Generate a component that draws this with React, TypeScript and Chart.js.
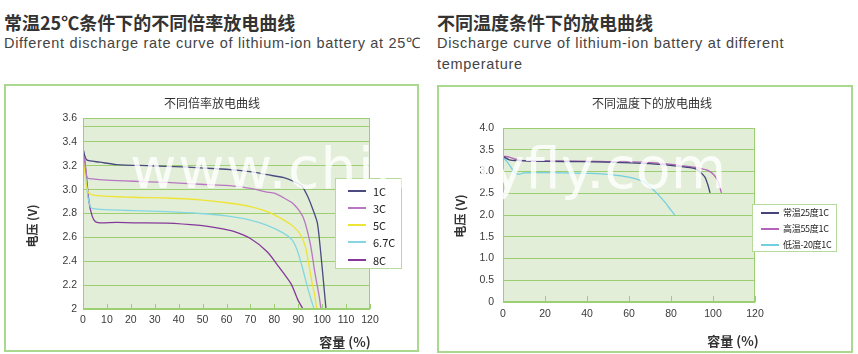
import React, { useEffect, useRef } from 'react';
import { Chart, registerables } from 'chart.js';
Chart.register(...registerables);

// ---------- Left chart: different discharge rates ----------
const rateLabels = ['1C', '3C', '5C', '6.7C', '8C'];
const rateColors = ['#4b4b82', '#b877c2', '#eee436', '#86d6e2', '#84399a'];

const cap1C = [0, 0.5, 1.5, 3, 7, 14, 28, 42, 56, 63, 70, 77, 84, 88, 91.5, 94, 96, 98, 99.4, 100.5, 101.6];
const volt1C = [3.35, 3.30, 3.25, 3.24, 3.23, 3.21, 3.20, 3.19, 3.175, 3.165, 3.15, 3.125, 3.10, 3.07, 3.03, 2.94, 2.84, 2.72, 2.47, 2.24, 2.0];

const cap3C = [0, 0.8, 1.8, 4, 10, 21, 35, 49, 63, 70, 77, 80, 84, 88, 92, 95, 97, 98.8, 99.5];
const volt3C = [3.35, 3.22, 3.10, 3.09, 3.08, 3.07, 3.06, 3.045, 3.03, 3.01, 2.98, 2.97, 2.93, 2.88, 2.77, 2.55, 2.30, 2.10, 2.0];

const cap5C = [0, 1, 2.4, 7, 21, 35, 49, 60, 70, 77, 84, 88, 91, 93, 94.2, 95.6, 97, 97.7];
const volt5C = [3.35, 3.10, 2.97, 2.947, 2.936, 2.93, 2.914, 2.89, 2.858, 2.815, 2.745, 2.69, 2.62, 2.52, 2.40, 2.24, 2.10, 2.0];

const cap67C = [0, 1, 2, 3, 3.8, 7, 21, 35, 49, 60, 70, 77, 84, 87.5, 89.6, 91.7, 93.5, 95.2, 96.6];
const volt67C = [3.35, 3.15, 2.95, 2.86, 2.843, 2.835, 2.824, 2.815, 2.80, 2.78, 2.745, 2.70, 2.633, 2.577, 2.49, 2.35, 2.21, 2.09, 2.0];

const cap8C = [0, 1, 2.5, 3.8, 5.2, 7, 14, 21, 35, 49, 56, 63, 70, 77, 82, 87, 90, 92];
const volt8C = [3.35, 3.20, 2.90, 2.78, 2.73, 2.722, 2.725, 2.722, 2.72, 2.70, 2.68, 2.65, 2.59, 2.48, 2.35, 2.21, 2.07, 2.0];

const leftXTicks = [0, 10, 20, 30, 40, 50, 60, 70, 80, 90, 100, 110, 120];
const leftXTickLabels = ['0', '10', '20', '30', '40', '50', '60', '70', '80', '90', '100', '110', '120'];
const leftYTicks = [2, 2.2, 2.4, 2.6, 2.8, 3.0, 3.2, 3.4, 3.53, 3.6];
const leftYTickLabels = ['2', '2.2', '2.4', '2.6', '2.8', '3.0', '3.2', '3.4', '', '3.6'];

// ---------- Right chart: different temperatures ----------
const tempLabels = ['常温25度1C', '高温55度1C', '低温-20度1C'];
const tempColors = ['#45457c', '#b363b9', '#72cfe0'];

const capNormal = [0, 3, 8, 13, 29, 45, 61, 70, 77, 85, 91, 93, 96, 97.5, 98.6];
const voltNormal = [3.35, 3.27, 3.25, 3.24, 3.23, 3.22, 3.20, 3.18, 3.15, 3.11, 3.07, 3.02, 2.88, 2.70, 2.51];

const capHigh = [0, 3, 6.4, 10, 29, 45, 61, 77, 89, 94, 97.3, 100.5, 102.4, 104];
const voltHigh = [3.35, 3.33, 3.28, 3.25, 3.24, 3.23, 3.22, 3.18, 3.11, 3.07, 3.03, 2.92, 2.77, 2.51];

const capLow = [0, 2, 4, 5.1, 6.2, 8, 10, 29, 45, 54, 61, 67, 72, 77, 80, 81.8];
const voltLow = [3.33, 3.22, 3.08, 3.0, 2.95, 2.94, 2.97, 2.97, 2.95, 2.91, 2.86, 2.76, 2.56, 2.30, 2.11, 2.0];

const rightXTicks = [0, 20, 40, 60, 80, 100, 120];
const rightXTickLabels = ['0', '20', '40', '60', '80', '100', '120'];
const rightYTicks = [0, 0.5, 1.0, 1.5, 2.0, 2.5, 3.0, 3.5, 4.0];
const rightYTickLabels = ['0', '0.5', '1.0', '1.5', '2.0', '2.5', '3.0', '3.5', '4.0'];

const PLOT_BG = '#e2eed7';
const GRID = '#9bcf72';
const TICK_FONT = '"Liberation Sans", Arial, sans-serif';
const CJK = '"Noto Sans CJK SC", "Liberation Sans", sans-serif';

const toPoints = (xs: number[], ys: number[]) => xs.map((x, i) => ({ x, y: ys[i] }));

const plotDecor = {
  id: 'plotDecor',
  beforeDraw(chart: any, _a: any, opts: any) {
    const { ctx, chartArea: a } = chart;
    ctx.save();
    ctx.fillStyle = opts.bg;
    ctx.fillRect(a.left, a.top, a.width, a.height);
    ctx.restore();
  },
  afterDatasetsDraw(chart: any, _a: any, opts: any) {
    const { ctx, chartArea: a, scales } = chart;
    ctx.save();
    ctx.strokeStyle = opts.border;
    ctx.lineWidth = 1;
    ctx.strokeRect(Math.round(a.left) + 0.5, Math.round(a.top) + 0.5, Math.round(a.width) - 1, Math.round(a.height) - 1);
    const xs = scales.x;
    xs.ticks.forEach((t: any) => {
      const px = Math.round(xs.getPixelForValue(t.value)) + 0.5;
      ctx.beginPath();
      ctx.moveTo(px, a.bottom);
      ctx.lineTo(px, a.bottom - opts.tickLen);
      ctx.stroke();
    });
    ctx.restore();
  },
};

type ChartProps = {
  left: number; top: number; width: number; height: number;
  datasets: any[];
  xTicks: number[]; xLabels: string[];
  yTicks: number[]; yLabels: string[];
  yMin: number; yMax: number;
  padTop: number; padRight: number; yAxisW: number; xAxisH: number;
  xPad: number; yPad: number; tickLen: number;
};

function LineChart(p: ChartProps) {
  const ref = useRef<HTMLCanvasElement | null>(null);
  useEffect(() => {
    if (!ref.current) return;
    const font = { family: TICK_FONT, size: 10.5 };
    const chart = new Chart(ref.current, {
      type: 'line',
      data: { datasets: p.datasets },
      plugins: [plotDecor],
      options: {
        animation: false,
        responsive: false,
        maintainAspectRatio: false,
        layout: { padding: { top: p.padTop, right: p.padRight, left: 0, bottom: 0 } },
        elements: { point: { radius: 0 }, line: { borderWidth: 1.3, tension: 0.25 } },
        plugins: {
          legend: { display: false },
          tooltip: { enabled: false },
          plotDecor: { bg: PLOT_BG, border: GRID, tickLen: p.tickLen },
        } as any,
        scales: {
          x: {
            type: 'linear',
            min: p.xTicks[0],
            max: p.xTicks[p.xTicks.length - 1],
            afterBuildTicks: (s: any) => { s.ticks = p.xTicks.map((v) => ({ value: v })); },
            afterFit: (s: any) => { s.height = p.xAxisH; },
            grid: { display: false, drawTicks: false, tickLength: 0 },
            border: { display: false },
            ticks: {
              padding: p.xPad, font, color: '#3a3a3a', maxRotation: 0, autoSkip: false,
              callback: (v: any) => { const i = p.xTicks.indexOf(Number(v)); return i >= 0 ? p.xLabels[i] : ''; },
            },
          },
          y: {
            type: 'linear',
            min: p.yMin,
            max: p.yMax,
            afterBuildTicks: (s: any) => { s.ticks = p.yTicks.map((v) => ({ value: v })); },
            afterFit: (s: any) => { s.width = p.yAxisW; },
            grid: { color: GRID, drawTicks: false, tickLength: 0, lineWidth: 1 },
            border: { display: false },
            ticks: {
              padding: p.yPad, font, color: '#3a3a3a', autoSkip: false,
              callback: (v: any) => { const i = p.yTicks.indexOf(Number(v)); return i >= 0 ? p.yLabels[i] : ''; },
            },
          },
        },
      } as any,
    });
    return () => chart.destroy();
  }, []);
  return (
    <canvas
      ref={ref}
      width={p.width}
      height={p.height}
      style={{ position: 'absolute', left: p.left, top: p.top, width: p.width, height: p.height }}
    />
  );
}

const abs = (s: React.CSSProperties): React.CSSProperties => ({ position: 'absolute', ...s });

function Legend({ left, top, width, height, labels, colors, rowTops, lineX, lineW, textX, fontSize }: any) {
  return (
    <div style={abs({ left, top, width, height, boxSizing: 'border-box', border: '1px solid #b5da9b', background: '#fff' })}>
      {labels.map((l: string, i: number) => (
        <React.Fragment key={l}>
          <div style={abs({ left: lineX, top: rowTops[i] - 1, width: lineW, height: 1.5, background: colors[i] })} />
          <div style={abs({ left: textX, top: rowTops[i] - 8, height: 16, lineHeight: '16px', fontSize, color: '#222', fontFamily: CJK, whiteSpace: 'nowrap', letterSpacing: fontSize < 10 ? -0.3 : 0 })}>{l}</div>
        </React.Fragment>
      ))}
    </div>
  );
}

export default function App() {
  const leftSets = [
    [cap1C, volt1C], [cap3C, volt3C], [cap5C, volt5C], [cap67C, volt67C], [cap8C, volt8C],
  ].map(([xs, ys], i) => ({
    label: rateLabels[i], data: toPoints(xs, ys), borderColor: rateColors[i], backgroundColor: rateColors[i], fill: false,
  }));
  const rightSets = [
    [capNormal, voltNormal], [capHigh, voltHigh], [capLow, voltLow],
  ].map(([xs, ys], i) => ({
    label: tempLabels[i], data: toPoints(xs, ys), borderColor: tempColors[i], backgroundColor: tempColors[i], fill: false,
  }));

  const heading: React.CSSProperties = { fontSize: 18, fontWeight: 'bold', color: '#333', fontFamily: CJK, lineHeight: '24px', whiteSpace: 'nowrap' };
  const sub: React.CSSProperties = { fontSize: 14.5, letterSpacing: 0.7, color: '#444', fontFamily: '"Liberation Sans", Arial, sans-serif', lineHeight: '21px', whiteSpace: 'nowrap' };
  const chartTitle: React.CSSProperties = { fontSize: 12, color: '#333', fontFamily: CJK, lineHeight: '16px', textAlign: 'center', whiteSpace: 'nowrap' };
  const axisTitle: React.CSSProperties = { fontSize: 13, fontWeight: 'bold', color: '#333', fontFamily: CJK, lineHeight: '16px', textAlign: 'center', whiteSpace: 'nowrap' };
  const watermark: React.CSSProperties = { fontSize: 57, color: 'rgba(255,255,255,0.82)', fontFamily: '"DejaVu Sans", sans-serif', lineHeight: '70px', whiteSpace: 'nowrap', pointerEvents: 'none' };

  return (
    <div style={abs({ left: 0, top: 0, width: 858, height: 354, background: '#fff', overflow: 'hidden' })}>
      <div style={abs({ left: 4, top: 10, ...heading })}>常温25℃条件下的不同倍率放电曲线</div>
      <div style={abs({ left: 4, top: 33, ...sub })}>Different discharge rate curve of lithium-ion battery at 25℃</div>
      <div style={abs({ left: 437, top: 10, ...heading })}>不同温度条件下的放电曲线</div>
      <div style={abs({ left: 437, top: 33, ...sub })}>Discharge curve of lithium-ion battery at different<br />temperature</div>

      <div style={abs({ left: 4, top: 84, width: 415, height: 268, boxSizing: 'border-box', border: '2px solid #a9d88e' })} />
      <div style={abs({ left: 437, top: 85, width: 416, height: 268, boxSizing: 'border-box', border: '2px solid #a9d88e' })} />

      <LineChart
        left={6} top={86} width={411} height={264}
        datasets={leftSets}
        xTicks={leftXTicks} xLabels={leftXTickLabels}
        yTicks={leftYTicks} yLabels={leftYTickLabels}
        yMin={2} yMax={3.6}
        padTop={32} padRight={47} yAxisW={77} xAxisH={41}
        xPad={5} yPad={6} tickLen={5}
      />
      <LineChart
        left={439} top={87} width={412} height={264}
        datasets={rightSets}
        xTicks={rightXTicks} xLabels={rightXTickLabels}
        yTicks={rightYTicks} yLabels={rightYTickLabels}
        yMin={0} yMax={4}
        padTop={41} padRight={96} yAxisW={64} xAxisH={49}
        xPad={6} yPad={9} tickLen={6}
      />

      <div style={abs({ left: 112, top: 95, width: 200, ...chartTitle })}>不同倍率放电曲线</div>
      <div style={abs({ left: 552, top: 95, width: 200, ...chartTitle })}>不同温度下的放电曲线</div>

      <div style={abs({ left: 295, top: 334, width: 100, ...axisTitle })}>容量 (%)</div>
      <div style={abs({ left: 683, top: 333, width: 100, ...axisTitle })}>容量 (%)</div>
      <div style={abs({ left: -8, top: 218, width: 80, ...axisTitle, fontSize: 12, transform: 'rotate(-90deg)' })}>电压 (V)</div>
      <div style={abs({ left: 420, top: 208, width: 80, ...axisTitle, fontSize: 12, transform: 'rotate(-90deg)' })}>电压 (V)</div>

      <Legend left={335} top={178} width={67} height={91} labels={rateLabels} colors={rateColors}
        rowTops={[12, 29, 46, 63, 81]} lineX={12} lineW={18} textX={37} fontSize={11} />
      <Legend left={752} top={204} width={85} height={48} labels={tempLabels} colors={tempColors}
        rowTops={[8, 24, 40]} lineX={8} lineW={18} textX={30} fontSize={9} />

      <div style={abs({ left: 130, top: 133, letterSpacing: 1.3, ...watermark })}>www.chin</div>
      <div style={abs({ left: 455, top: 133, ...watermark })}>hyfly.com</div>
    </div>
  );
}
